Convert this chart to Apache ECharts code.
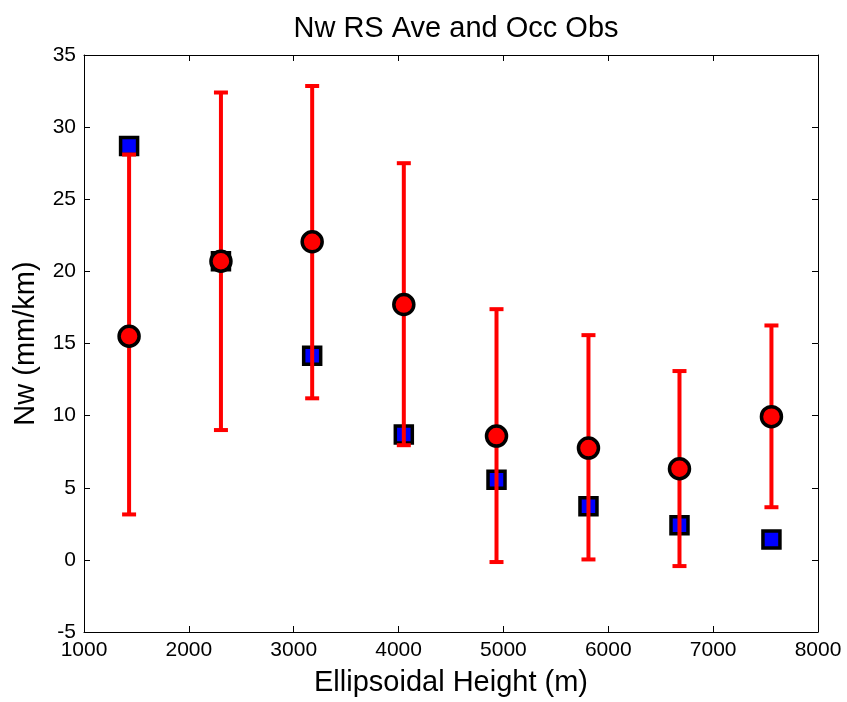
<!DOCTYPE html>
<html><head><meta charset="utf-8">
<script src="https://cdn.jsdelivr.net/npm/echarts@6/dist/echarts.min.js"></script>
<style>html,body{margin:0;padding:0;background:#fff}#c{width:847px;height:702px}</style>
</head><body><div id="c"></div>
<script>
var heights = [1430, 2306, 3176, 4050, 4934, 5811, 6679, 7556];
var rsMean  = [15.5, 20.7, 22.05, 17.7, 8.58, 7.75, 6.32, 9.93];
var rsLow   = [3.15, 9.0, 11.2, 7.95, -0.15, 0.03, -0.43, 3.65];
var rsHigh  = [28.1, 32.4, 32.85, 27.5, 17.38, 15.58, 13.09, 16.25];
var occObs  = [28.7, 20.7, 14.15, 8.7, 5.56, 3.71, 2.4, 1.41];

var font = 'Liberation Sans, Arial, Helvetica, sans-serif';
var chart = echarts.init(document.getElementById('c'), null, {renderer: 'canvas'});

var errData = heights.map(function (h, i) { return [h, rsLow[i], rsHigh[i]]; });
var meanData = heights.map(function (h, i) { return [h, rsMean[i]]; });
var obsData = heights.map(function (h, i) { return [h, occObs[i]]; });

var axisLineStyle = {color: '#000', width: 1};
var tickStyle = {inside: true, length: 6, lineStyle: {color: '#000'}};
var plain = function (v) { return String(v); };
chart.setOption({
  backgroundColor: '#fff',
  animation: false,
  title: {
    text: 'Nw RS Ave and Occ Obs', left: 451, top: 9, textAlign: 'center',
    textStyle: {fontFamily: font, fontSize: 29, fontWeight: 'normal', color: '#000'}
  },
  grid: {left: 84, right: 29, top: 55, bottom: 68},
  xAxis: [{
    type: 'value', min: 1000, max: 8000, interval: 1000,
    name: 'Ellipsoidal Height (m)', nameLocation: 'middle', nameGap: 36,
    nameTextStyle: {fontFamily: font, fontSize: 29, color: '#000'},
    axisLine: {onZero: false, lineStyle: axisLineStyle},
    axisTick: tickStyle,
    axisLabel: {fontFamily: font, fontSize: 21, color: '#000', margin: 8, formatter: plain},
    splitLine: {show: false}
  }, {
    type: 'value', position: 'top', min: 1000, max: 8000, interval: 1000,
    axisLine: {show: true, onZero: false, lineStyle: axisLineStyle},
    axisTick: tickStyle,
    axisLabel: {show: false}, splitLine: {show: false}
  }],
  yAxis: [{
    type: 'value', min: -5, max: 35, interval: 5,
    name: 'Nw (mm/km)', nameLocation: 'middle', nameGap: 44,
    nameTextStyle: {fontFamily: font, fontSize: 29, color: '#000'},
    axisLine: {show: true, onZero: false, lineStyle: axisLineStyle},
    axisTick: {show: true, inside: true, length: 6, lineStyle: {color: '#000'}},
    axisLabel: {fontFamily: font, fontSize: 21, color: '#000', margin: 8, formatter: plain},
    splitLine: {show: false}
  }, {
    type: 'value', position: 'right', min: -5, max: 35, interval: 5,
    axisLine: {show: true, onZero: false, lineStyle: axisLineStyle},
    axisTick: {show: true, inside: true, length: 6, lineStyle: {color: '#000'}},
    axisLabel: {show: false}, splitLine: {show: false}
  }],
  series: [{
    type: 'scatter', name: 'Occ Obs', data: obsData, z: 2,
    symbol: 'rect', symbolSize: 17,
    itemStyle: {color: '#0000ff', borderColor: '#000', borderWidth: 3.5, opacity: 1}
  }, {
    type: 'custom', name: 'err', data: errData, z: 3,
    renderItem: function (params, api) {
      var x = api.value(0);
      var lo = api.coord([x, api.value(1)]);
      var hi = api.coord([x, api.value(2)]);
      var hw = 7;
      var st = {stroke: '#ff0000', lineWidth: 4};
      return {type: 'group', children: [
        {type: 'line', shape: {x1: lo[0], y1: lo[1], x2: hi[0], y2: hi[1]}, style: st},
        {type: 'line', shape: {x1: lo[0] - hw, y1: lo[1], x2: lo[0] + hw, y2: lo[1]}, style: st},
        {type: 'line', shape: {x1: hi[0] - hw, y1: hi[1], x2: hi[0] + hw, y2: hi[1]}, style: st}
      ]};
    }
  }, {
    type: 'scatter', name: 'RS Ave', data: meanData, z: 4,
    symbol: 'circle', symbolSize: 20,
    itemStyle: {color: '#ff0000', borderColor: '#000', borderWidth: 3.5, opacity: 1}
  }]
});
</script></body></html>
